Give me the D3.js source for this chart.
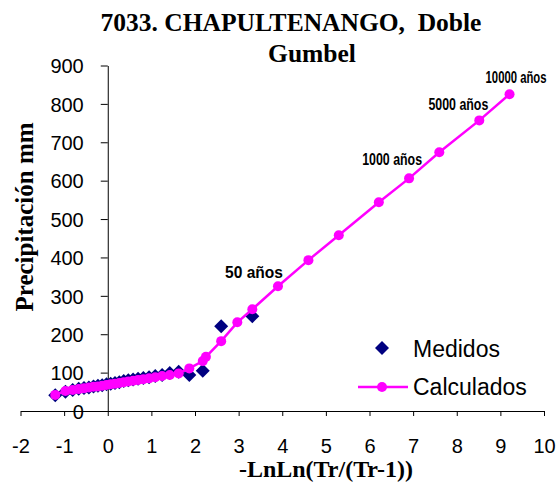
<!DOCTYPE html>
<html lang="es">
<head>
  <meta charset="UTF-8">
  <title>7033. CHAPULTENANGO, Doble Gumbel</title>
  <script src="https://d3js.org/d3.v7.min.js"></script>
  <style>
    body { margin: 0; background: #fff; }
    .tick text { font-family: "Liberation Sans", Arial, sans-serif; font-size: 20px; fill: #000; }
    .tick line, .domain { stroke: #000; stroke-width: 1; }
    .title, .axis-label { font-family: "Liberation Serif", "Times New Roman", serif; font-weight: bold; fill: #000; white-space: pre; }
    .note { font-family: "Liberation Sans Narrow", "Liberation Sans", Arial, sans-serif; font-weight: bold; font-size: 16px; }
    .legend { font-family: "Liberation Sans", Arial, sans-serif; font-size: 23px; }
  </style>
</head>
<body>
<div id="chart"></div>
<script>
  // Medidos: posición -LnLn(Tr/(Tr-1)) y precipitación
  const medX = [3.314, 2.600, 2.178, 1.870, 1.626, 1.422, 1.246, 1.089, 0.947, 0.817, 0.695, 0.581, 0.471, 0.367,
                0.265, 0.166, 0.068, -0.029, -0.127, -0.225, -0.327, -0.432, -0.544, -0.666, -0.804, -0.970, -1.204];
  const medY = [247, 221, 105, 94, 102, 99, 94, 91, 88, 86, 84, 82, 80, 78,
                75, 73, 71, 70, 67, 66, 64, 61, 60, 58, 55, 50, 41];

  // Calculados
  const calX = [-1.204, -0.970, -0.804, -0.666, -0.544, -0.432, -0.327, -0.225, -0.127, -0.029, 0.068, 0.166,
                0.265, 0.367, 0.471, 0.581, 0.695, 0.817, 0.947, 1.089, 1.246, 1.422, 1.626, 1.870, 2.178, 2.250,
                2.600, 2.970, 3.314, 3.902, 4.600, 5.296, 6.214, 6.907, 7.600, 8.517, 9.210];
  const calY = [42, 52, 55, 57, 59, 61, 63, 64, 66, 68, 70, 71,
                73, 75, 77, 79, 81, 83, 85, 88, 91, 94, 98, 111, 130, 141,
                182, 231, 265, 325, 393, 458, 544, 606, 674, 757, 825];

  // Etiquetas de periodo de retorno (índice en calX)
  const notes = [
    { text: "50 años", i: 29 },
    { text: "1000 años", i: 33 },
    { text: "5000 años", i: 35 },
    { text: "10000 años", i: 36 }
  ];
  // desplazamiento del final del texto y ancho, en píxeles
  const noteOffset = [[5, -8, 58], [13, -13, 60], [9, -10, 60], [37, -11, 61]];

  const xTicks = d3.range(-2, 11, 1);
  const yTicks = d3.range(0, 901, 100);

  const W = 558, H = 485;
  const svg = d3.select("#chart").append("svg").attr("width", W).attr("height", H);

  const x = d3.scaleLinear().domain([-2, 10]).range([20.5, 544]);
  const y = d3.scaleLinear().domain([0, 900]).range([411, 65.5]);

  // Ejes
  svg.append("g")
    .attr("transform", `translate(0,${y(0)})`)
    .call(d3.axisBottom(x).tickValues(xTicks).tickSize(5).tickPadding(23).tickSizeOuter(0).tickFormat(d => String(d)));

  svg.append("g")
    .attr("transform", `translate(${x(0)},0)`)
    .call(d3.axisLeft(y).tickValues(yTicks).tickSize(7).tickPadding(17).tickSizeOuter(0).tickFormat(d => String(d)))
    .selectAll(".tick text").attr("dy", "0.36em");

  // Medidos
  const diamond = d3.symbol().type(d3.symbolSquare).size(98);
  svg.append("g").selectAll("path")
    .data(medX.map((v, i) => [v, medY[i]]))
    .join("path")
    .attr("d", diamond)
    .attr("transform", d => `translate(${x(d[0])},${y(d[1])}) rotate(45)`)
    .attr("fill", "#000080");

  // Calculados
  const calc = calX.map((v, i) => [v, calY[i]]);
  svg.append("path")
    .datum(calc)
    .attr("fill", "none")
    .attr("stroke", "#FF00FF")
    .attr("stroke-width", 2.5)
    .attr("d", d3.line().x(d => x(d[0])).y(d => y(d[1])));

  svg.append("g").selectAll("circle")
    .data(calc)
    .join("circle")
    .attr("cx", d => x(d[0]))
    .attr("cy", d => y(d[1]))
    .attr("r", 5)
    .attr("fill", "#FF00FF");

  // Notas (texto comprimido a lo ancho, como en el original)
  svg.append("g").selectAll("text")
    .data(notes)
    .join("text")
    .attr("class", "note")
    .attr("text-anchor", "end")
    .text(d => d.text)
    .attr("transform", function(d, k) {
      const sx = noteOffset[k][2] / this.getComputedTextLength();
      const tx = x(calX[d.i]) + noteOffset[k][0];
      const ty = y(calY[d.i]) + noteOffset[k][1];
      return `translate(${tx},${ty}) scale(${sx},1)`;
    });

  // Títulos
  svg.append("text").attr("class", "title").attr("x", 291).attr("y", 31)
    .attr("text-anchor", "middle").style("font-size", "25.5px").text("7033. CHAPULTENANGO,  Doble");
  svg.append("text").attr("class", "title").attr("x", 312).attr("y", 62)
    .attr("text-anchor", "middle").style("font-size", "25.5px").text("Gumbel");

  svg.append("text").attr("class", "axis-label")
    .attr("transform", "translate(33,217) rotate(-90)")
    .attr("text-anchor", "middle").style("font-size", "25px").text("Precipitación mm");

  svg.append("text").attr("class", "axis-label")
    .attr("x", 326).attr("y", 477)
    .attr("text-anchor", "middle").style("font-size", "24px").text("-LnLn(Tr/(Tr-1))");

  // Leyenda
  const lg = svg.append("g");
  lg.append("path").attr("d", diamond).attr("transform", "translate(382,348) rotate(45)").attr("fill", "#000080");
  lg.append("text").attr("class", "legend").attr("x", 413).attr("y", 357).text("Medidos");
  lg.append("line").attr("x1", 358).attr("x2", 408).attr("y1", 387).attr("y2", 387)
    .attr("stroke", "#FF00FF").attr("stroke-width", 2.5);
  lg.append("circle").attr("cx", 382).attr("cy", 387).attr("r", 5).attr("fill", "#FF00FF");
  lg.append("text").attr("class", "legend").attr("x", 413).attr("y", 395).text("Calculados");
</script>
</body>
</html>
